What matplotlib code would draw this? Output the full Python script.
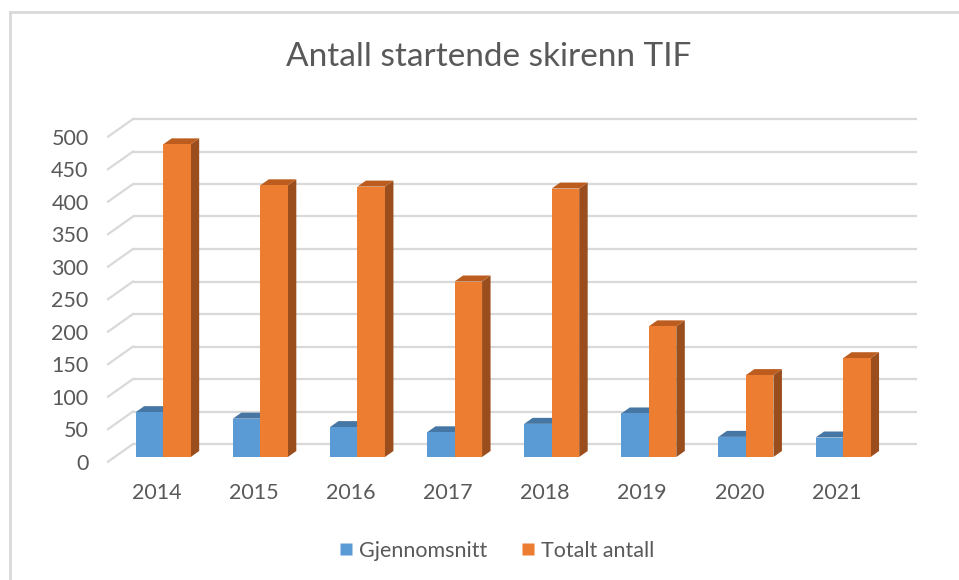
import numpy as np
import matplotlib
matplotlib.use('Agg')
import matplotlib.pyplot as plt
from matplotlib.patches import Polygon
from matplotlib.lines import Line2D

# -- data --
years = ['2014', '2015', '2016', '2017', '2018', '2019', '2020', '2021']
gjennomsnitt = [69, 59, 46, 38, 51, 67, 31, 30]
totalt_antall = [481, 418, 416, 270, 413, 201, 126, 152]
series_names = ['Gjennomsnitt', 'Totalt antall']
yticks = [0, 50, 100, 150, 200, 250, 300, 350, 400, 450, 500]

# colours: front, top, side
front_cols = ['#5B9BD5', '#ED7D31']
top_cols = ['#4676A3', '#BC5D1F']
side_cols = ['#3E6C96', '#9B4E1D']
text_col = '#595959'
grid_col = '#D9D9D9'

plt.rcParams['font.family'] = ['Lato', 'DejaVu Sans']

W, H = 959, 580
fig = plt.figure(figsize=(W / 100, H / 100), dpi=100)

# front plane of the fake 3D box (pixels from top-left)
x_left, x_right = 108, 885
y_zero, y_top = 461.7, 136.7
ax = fig.add_axes([x_left / W, 1 - y_zero / H,
                   (x_right - x_left) / W, (y_zero - y_top) / H])
ax.set_xlim(-0.5, len(years) - 0.5)
ax.set_ylim(0, 500)
for s in ax.spines.values():
    s.set_visible(False)

# pixel -> data unit conversions
px_x = (x_right - x_left) / len(years)
px_y = (y_zero - y_top) / 500.0

# depth of the box (front plane -> back wall)
depth_dx = 25 / px_x
depth_dy = 17.7 / px_y
wall_end = -0.5 + (917 - x_left) / px_x

# back wall gridlines and left side wall lines
for v in yticks:
    ax.plot([-0.5 + depth_dx, wall_end], [v + depth_dy, v + depth_dy],
            color=grid_col, lw=1.6, clip_on=False, zorder=1,
            solid_capstyle='butt')
    ax.plot([-0.5, -0.5 + depth_dx], [v, v + depth_dy], color=grid_col,
            lw=1.6, clip_on=False, zorder=1)

# bar geometry
bw = 27.5 / px_x
f0 = 0.265              # bar front face position in depth
bar_ddx = 8.5 / px_x    # bar depth
bar_ddy = 6.0 / px_y
off_x = f0 * depth_dx
off_y = f0 * depth_dy

z = 2
for i in range(len(years)):
    for s, vals in enumerate([gjennomsnitt, totalt_antall]):
        xl = i + off_x - bw + s * bw
        xr = xl + bw
        y0 = off_y
        y1 = off_y + vals[i]
        front = Polygon([(xl, y0), (xr, y0), (xr, y1), (xl, y1)],
                        closed=True, fc=front_cols[s], ec='none',
                        clip_on=False, zorder=z)
        top = Polygon([(xl, y1), (xr, y1), (xr + bar_ddx, y1 + bar_ddy),
                       (xl + bar_ddx, y1 + bar_ddy)],
                      closed=True, fc=top_cols[s], ec='none',
                      clip_on=False, zorder=z)
        side = Polygon([(xr, y0), (xr + bar_ddx, y0 + bar_ddy),
                        (xr + bar_ddx, y1 + bar_ddy), (xr, y1)],
                       closed=True, fc=side_cols[s], ec='none',
                       clip_on=False, zorder=z)
        ax.add_patch(side)
        ax.add_patch(top)
        ax.add_patch(front)
        z += 1

ax.set_xticks(range(len(years)))
ax.set_xticklabels(years)
ax.set_yticks(yticks)
ax.tick_params(axis='x', length=0, pad=15, labelsize=15.5, colors=text_col)
ax.tick_params(axis='y', length=0, pad=14, labelsize=15.5, colors=text_col)

fig.text(489 / W, 1 - 57 / H, 'Antall startende skirenn TIF',
         ha='center', va='center', fontsize=24, color=text_col)

handles = [Line2D([0], [0], marker='s', ls='none', markersize=9,
                  markerfacecolor=c, markeredgecolor='none') for c in front_cols]
fig.legend(handles, series_names, loc='center', bbox_to_anchor=(0.516, 1 - 551 / H),
           ncol=2, frameon=False, fontsize=15.5, labelcolor=text_col,
           handletextpad=0.1, columnspacing=1.4, handlelength=1.0)

# chart border (only left and top visible)
fig.add_artist(Line2D([10 / W, 10 / W], [0, 1 - 12 / H], color=grid_col, lw=2))
fig.add_artist(Line2D([10 / W, 1], [1 - 12 / H, 1 - 12 / H], color=grid_col, lw=2))

fig.savefig('out.png', dpi=100, facecolor='white')
